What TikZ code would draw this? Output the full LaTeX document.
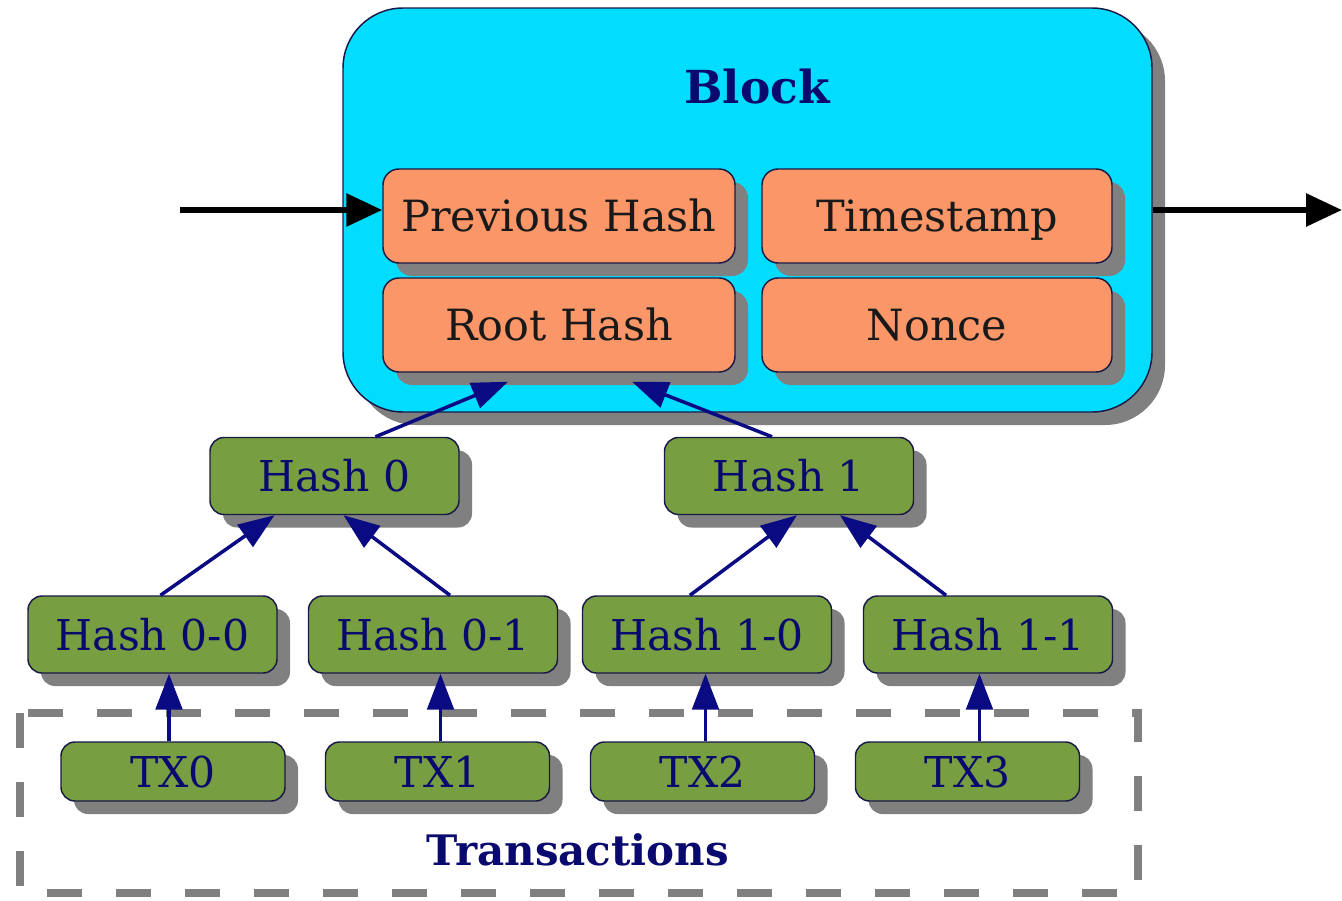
\documentclass[tikz,border=0pt]{standalone}
\usepackage{fontspec}
\setmainfont{DejaVu Serif}
\usetikzlibrary{arrows.meta,shadows}
\newlength\pu
\setlength\pu{0.75pt}
\definecolor{blockcyan}{RGB}{0,221,255}
\definecolor{fieldorange}{RGB}{250,150,104}
\definecolor{hashgreen}{RGB}{120,158,66}
\definecolor{edgenavy}{RGB}{10,10,130}
\definecolor{textnavy}{RGB}{10,10,110}
\definecolor{rimnavy}{RGB}{25,25,70}
\definecolor{shadowgray}{RGB}{128,128,128}
\tikzset{
  boxshadow/.style={general shadow={shadow xshift=13\pu, shadow yshift=-13\pu, fill=shadowgray}},
  blockbox/.style={draw=rimnavy, line width=1.1pt, fill=blockcyan, rounded corners=60\pu,
    minimum width=809\pu, minimum height=404\pu, inner sep=0pt, boxshadow},
  fieldbox/.style={draw=rimnavy, line width=1.1pt, fill=fieldorange, rounded corners=16\pu,
    minimum width=352\pu, minimum height=94\pu, inner sep=0pt, boxshadow,
    text height=23.5pt, text depth=0pt,
    font=\fontsize{43\pu}{50\pu}\selectfont, text=black!90},
  hashbox/.style={draw=rimnavy, line width=1.1pt, fill=hashgreen, rounded corners=14\pu,
    minimum width=249\pu, minimum height=77\pu, inner sep=0pt, boxshadow,
    text height=23.3pt, text depth=0pt,
    font=\fontsize{42.5\pu}{50\pu}\selectfont, text=textnavy},
  txbox/.style={hashbox, minimum width=224\pu, minimum height=59\pu},
  treeedge/.style={draw=edgenavy, line width=3.5\pu,
    -{Triangle[length=27pt,width=20pt]}},
  chainedge/.style={draw=black, line width=6\pu,
    -{Triangle[length=27pt,width=24pt]}},
  groupframe/.style={draw=shadowgray, line width=8\pu, dash pattern=on 35\pu off 34\pu},
  titletext/.style={font=\bfseries\fontsize{45.5\pu}{52\pu}\selectfont, text=textnavy, inner sep=0pt}
}
\begin{document}
\begin{tikzpicture}[x=0.75pt, y=-0.75pt]
\useasboundingbox (0,0) rectangle (1342,900);

% transactions group frame
\draw[groupframe] (20,713) rectangle (1138,893);
\node[titletext, font=\bfseries\fontsize{42\pu}{50\pu}\selectfont] (txlabel) at (578,850) {Transactions};

% block container and its fields
\node[blockbox] (block) at (747.5,210) {};
\node[titletext] (blocktitle) at (757,87) {Block};
\node[fieldbox] (prev) at (559,216) {Previous Hash};
\node[fieldbox, minimum width=350\pu] (ts) at (937,216) {Timestamp};
\node[fieldbox] (root) at (559,325) {Root Hash};
\node[fieldbox, minimum width=350\pu] (nonce) at (937,325) {Nonce};

% merkle tree
\node[hashbox] (h0) at (334.5,476) {Hash 0};
\node[hashbox] (h1) at (789,476) {Hash 1};
\node[hashbox] (h00) at (152.5,634.5) {Hash 0-0};
\node[hashbox] (h01) at (433,634.5) {Hash 0-1};
\node[hashbox] (h10) at (707,634.5) {Hash 1-0};
\node[hashbox] (h11) at (988,634.5) {Hash 1-1};
\node[txbox] (tx0) at (173,771.5) {TX0};
\node[txbox] (tx1) at (437.5,771.5) {TX1};
\node[txbox] (tx2) at (702.5,771.5) {TX2};
\node[txbox] (tx3) at (967.5,771.5) {TX3};

% chain links
\coordinate (chainin) at (180,210);
\coordinate (chainout) at (1342,210);
\draw[chainedge] (chainin) -- (prev.west |- chainin);
\draw[chainedge] (block.east |- chainout) -- (chainout);

% tree edges
\draw[treeedge] ([xshift=-4\pu]tx0.north) -- ([xshift=-4\pu]tx0.north |- h00.south);
\draw[treeedge] ([xshift=3\pu]tx1.north) -- ([xshift=3\pu]tx1.north |- h01.south);
\draw[treeedge] ([xshift=3\pu]tx2.north) -- ([xshift=3\pu]tx2.north |- h10.south);
\draw[treeedge] ([xshift=12\pu]tx3.north) -- ([xshift=12\pu]tx3.north |- h11.south);
\draw[treeedge] ([xshift=8\pu]h00.north) -- ([xshift=-60\pu]h0.south);
\draw[treeedge] ([xshift=17\pu]h01.north) -- ([xshift=9\pu]h0.south);
\draw[treeedge] ([xshift=-17\pu]h10.north) -- ([xshift=8\pu]h1.south);
\draw[treeedge] ([xshift=-42\pu]h11.north) -- ([xshift=51\pu]h1.south);
\draw[treeedge] ([xshift=41\pu]h0.north) -- ([xshift=-51\pu, yshift=-9\pu]root.south);
\draw[treeedge] ([xshift=-17\pu]h1.north) -- ([xshift=73\pu, yshift=-9\pu]root.south);
\end{tikzpicture}
\end{document}
